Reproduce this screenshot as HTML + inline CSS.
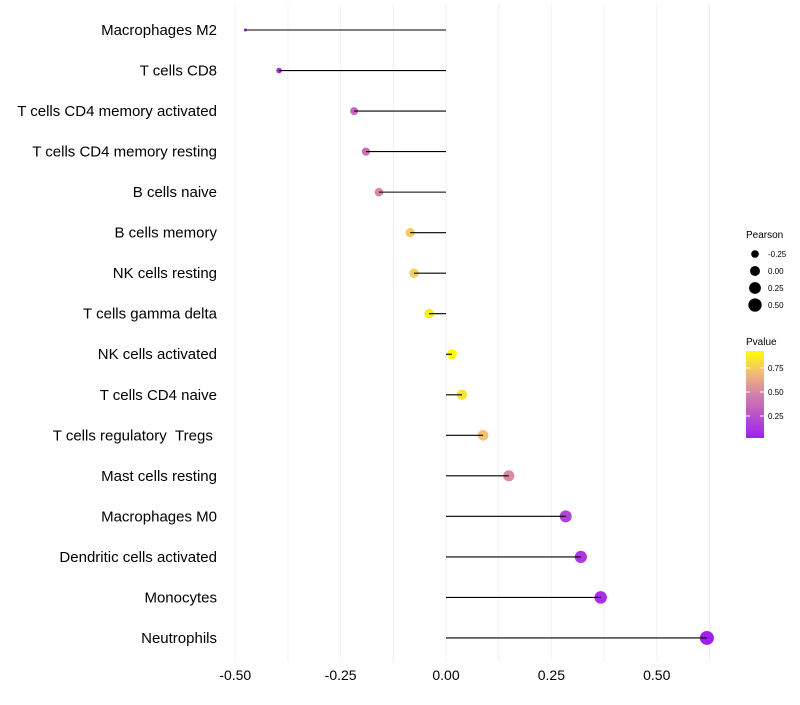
<!DOCTYPE html>
<html><head><meta charset="utf-8"><style>
body{margin:0;background:#fff;font-family:"Liberation Sans",Arial,sans-serif}
svg text{font-family:"Liberation Sans",Arial,sans-serif}
</style></head><body>
<svg id="chart" width="800" height="700" xmlns="http://www.w3.org/2000/svg">
<defs><linearGradient id="pg" x1="0" y1="1" x2="0" y2="0">
<stop offset="0" stop-color="#A020F0"/><stop offset="0.5" stop-color="#D47FA8"/><stop offset="0.75" stop-color="#F2BC78"/><stop offset="1" stop-color="#FFFF00"/></linearGradient></defs>
<g id="grid"></g>
<g id="marks"></g>
<g id="ylab"></g>
<g id="xlab"></g>
<g>
<text x="746" y="238" font-size="10" fill="#000">Pearson</text>
<g id="sizeleg"></g></g>
<g>
<text x="746" y="345" font-size="10" fill="#000">Pvalue</text>
<rect x="746" y="351" width="18" height="87" fill="url(#pg)"/>
<g id="pleg"></g></g>
</svg>
<script>
const categories=["Macrophages M2","T cells CD8","T cells CD4 memory activated","T cells CD4 memory resting","B cells naive","B cells memory","NK cells resting","T cells gamma delta","NK cells activated","T cells CD4 naive","T cells regulatory \u00a0Tregs\u00a0","Mast cells resting","Macrophages M0","Dendritic cells activated","Monocytes","Neutrophils"];
const pearson=[-0.476,-0.396,-0.218,-0.190,-0.159,-0.085,-0.076,-0.040,0.014,0.038,0.088,0.149,0.284,0.320,0.367,0.619];
const pvalue=[0.02,0.05,0.35,0.40,0.50,0.75,0.76,0.86,0.93,0.83,0.72,0.52,0.18,0.13,0.08,0.02];
const xTicks=[-0.5,-0.25,0,0.25,0.5];
const xTickLabels=["-0.50","-0.25","0.00","0.25","0.50"];
const sizeLegendVals=[-0.25,0,0.25,0.5];
const sizeLegendLabels=["-0.25","0.00","0.25","0.50"];
const pLegendVals=[0.25,0.5,0.75];
const pLegendLabels=["0.25","0.50","0.75"];

const NS="http://www.w3.org/2000/svg";
const x=v=>446+v*421.5;
const y=i=>30+i*40.53;
const vmin=Math.min(...pearson),vmax=Math.max(...pearson);
const r=v=>{const t=Math.max(0,(v-vmin)/(vmax-vmin));return 1.5+5.5*Math.pow(t,0.55);};
const stops=[[0,[160,32,240]],[0.5,[212,127,168]],[0.75,[242,188,120]],[1,[255,255,0]]];
const pmin=0.02,pmax=0.93;
function col(p){let t=(p-pmin)/(pmax-pmin);t=Math.max(0,Math.min(1,t));
for(let k=1;k<stops.length;k++){if(t<=stops[k][0]){const a=stops[k-1],b=stops[k];const f=(t-a[0])/(b[0]-a[0]);
return "rgb("+a[1].map((c,j)=>Math.round(c+(b[1][j]-c)*f)).join(",")+")";}}return "rgb(255,255,0)";}
function mk(tag,attrs,parent){const e=document.createElementNS(NS,tag);for(const k in attrs)e.setAttribute(k,attrs[k]);parent.appendChild(e);return e;}
const grid=document.getElementById('grid'),marks=document.getElementById('marks'),ylab=document.getElementById('ylab'),xlab=document.getElementById('xlab');
for(let v=-0.5;v<=0.626;v+=0.125){
const l=mk('line',{x1:x(v),x2:x(v),y1:5,y2:662,stroke:'#f2f2f2','stroke-width':1},grid);

}
xTicks.forEach((v,i)=>{const t=mk('text',{x:x(v),y:680,'font-size':14,'text-anchor':'middle',fill:'#000'},xlab);t.textContent=xTickLabels[i];

});
categories.forEach((c,i)=>{
const t=mk('text',{x:217,y:y(i)+5,'font-size':15,'text-anchor':'end',fill:'#000'},ylab);t.textContent=c;


const pt=mk('circle',{cx:x(pearson[i]),cy:y(i),r:r(pearson[i]),fill:col(pvalue[i])},marks);


const ln=mk('line',{x1:x(0),x2:x(pearson[i]),y1:y(i),y2:y(i),stroke:'#000','stroke-width':1.1},marks);

});
const sl=document.getElementById('sizeleg');
sizeLegendVals.forEach((v,i)=>{const cy=254+i*17;
const c=mk('circle',{cx:755,cy:cy,r:r(v),fill:'#000'},sl);


const t=mk('text',{x:768,y:cy+3,'font-size':8,fill:'#000'},sl);t.textContent=sizeLegendLabels[i];

});
const pl=document.getElementById('pleg');
pLegendVals.forEach((v,i)=>{const cy=416-(v-0.25)*96;
mk('line',{x1:746,x2:750,y1:cy,y2:cy,stroke:'#fff'},pl);mk('line',{x1:760,x2:764,y1:cy,y2:cy,stroke:'#fff'},pl);
const t=mk('text',{x:768,y:cy+3,'font-size':8,fill:'#000'},pl);t.textContent=pLegendLabels[i];

});
</script>
</body></html>
